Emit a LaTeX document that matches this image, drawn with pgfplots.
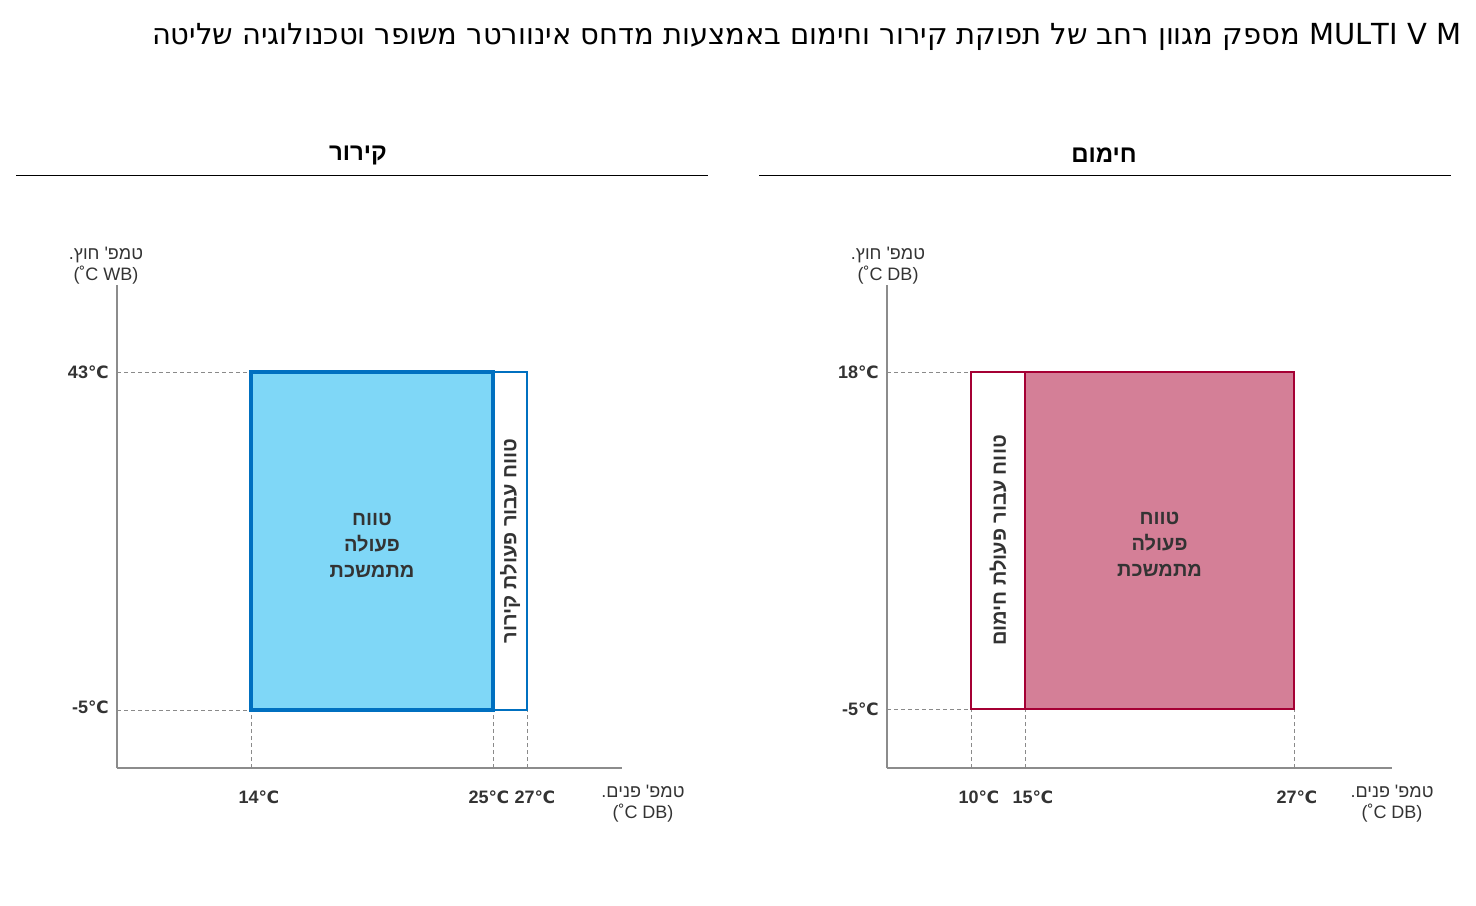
\documentclass[border=0pt]{standalone}
\usepackage{pgfplots}
\pgfplotsset{compat=1.18}
\usepackage{fontspec}
\setmainfont{Liberation Sans}
\newfontfamily\heb[Script=Hebrew]{Liberation Sans}
\newfontfamily\titlefont[Script=Hebrew]{DejaVu Sans}
\newfontfamily\dv{DejaVu Sans}
\TeXXeTstate=1
\definecolor{lblue}{HTML}{7FD7F7}
\definecolor{dblue}{HTML}{0070C0}
\definecolor{pinkf}{HTML}{D47F97}
\definecolor{crim}{HTML}{A50034}
\definecolor{txt}{HTML}{333333}
\definecolor{axgray}{HTML}{8C8C8C}
\definecolor{dgray}{HTML}{8A8A8A}
\newcommand\dc{{\dv\bfseries\fontsize{8.5}{10}\selectfont ℃}}
\pgfplotsset{panel/.style={
  scale only axis, width=252.5pt, height=241.5pt,
  anchor=south west,
  axis lines=left, axis line style={-, draw=axgray, line width=0.6pt},
  enlargelimits=false, clip=false,
  major tick length=0pt, tick style={draw=none},
  ticklabel style={font=\fontsize{9}{10}\selectfont\bfseries, text=txt},
  yticklabel style={anchor=east, inner sep=0pt, xshift=-4pt},
  xticklabel style={anchor=north, inner sep=0pt, yshift=-11pt, xshift=4pt},
  xlabel style={font=\heb\fontsize{9}{10.5}\selectfont, text=txt, align=center, anchor=north},
  ylabel style={rotate=-90, font=\heb\fontsize{9}{10.5}\selectfont, text=txt, align=center, anchor=south},
},
dash/.style={draw=dgray, line width=0.5pt, dash pattern=on 2pt off 1.5pt},
}
\begin{document}
\begin{tikzpicture}
\path[use as bounding box] (0pt,0pt) rectangle (738pt,-452.5pt);
% title
\node[anchor=east, inner sep=0pt] at (731pt,-18.5pt) {\titlefont\fontsize{14.5}{18}\selectfont\beginR\beginL MULTI V M\endL{} מספק מגוון רחב של תפוקת קירור וחימום באמצעות מדחס אינוורטר משופר וטכנולוגיה שליטה\endR};
% headings
\node[inner sep=0pt] at (179pt,-77.5pt) {\heb\bfseries\fontsize{12}{14}\selectfont\beginR קירור\endR};
\node[inner sep=0pt] at (552pt,-77.5pt) {\heb\bfseries\fontsize{12}{14}\selectfont\beginR חימום\endR};
\draw[line width=0.5pt] (8pt,-87.5pt) -- (354pt,-87.5pt);
\draw[line width=0.5pt] (379.5pt,-87.5pt) -- (725.5pt,-87.5pt);

% ---------------- cooling ----------------
\begin{axis}[panel, at={(58.5pt,-384pt)},
  ymin=-13.2367, ymax=55.355,
  x coord trafo/.code={\pgfmathparse{(#1<25.0001) ? (134+(#1-14)*22) : (376+(#1-25)*17)}},
  xtick={14,25,27},
  xticklabels={14\dc, 25\dc\hspace*{12pt}, 27\dc},
  ytick={-5,43},
  yticklabels={\raisebox{2.5pt}{-5\dc}, 43\dc},
  xlabel={\beginR טמפ' פנים.\endR\\(˚C DB)},
  xlabel style={at={(axis description cs:1.0416,0)}, yshift=-5pt},
  ylabel={\beginR טמפ' חוץ.\endR\\(˚C WB)},
  ylabel style={at={(axis description cs:-0.0218,1)}, yshift=-3pt},
]
\addplot[draw=none] coordinates {(7.90909,0) (32.588235,0)};
\addplot[dash] coordinates {(7.90909,43) (14,43)};
\addplot[dash] coordinates {(7.90909,-5) (14,-5)};
\addplot[dash] coordinates {(14,-13.2367) (14,-5)};
\addplot[dash] coordinates {(25,-13.2367) (25,-5)};
\addplot[dash] coordinates {(27,-13.2367) (27,-5)};
\addplot[fill=white, draw=dblue, line width=1pt] coordinates {(25,-5) (27,-5) (27,43) (25,43)} -- cycle;
\addplot[fill=lblue, draw=dblue, line width=1.7pt] coordinates {(14,-5) (25,-5) (25,43) (14,43)} -- cycle;
\node[align=center, text=txt, font=\heb\bfseries\fontsize{10}{13}\selectfont, yshift=-2pt] at (axis cs:19.5,19) {\beginR טווח\endR\\\beginR פעולה\endR\\\beginR מתמשכת\endR};
\node[rotate=90, text=txt, font=\heb\bfseries\fontsize{10}{12}\selectfont] at (axis cs:26,19) {\beginR טווח עבור פעולת קירור\endR};
\end{axis}

% ---------------- heating ----------------
\begin{axis}[panel, at={(443.5pt,-384pt)},
  ymin=-9.0267, ymax=23.9377,
  x coord trafo/.code={\pgfmathparse{(#1<15.0001) ? (84+(#1-10)*10.8) : (138+(#1-15)*269/12)}},
  xtick={10,15,27},
  xticklabels={10\dc, 15\dc, 27\dc\hspace*{5pt}},
  ytick={-5,18},
  yticklabels={-5\dc, 18\dc},
  xlabel={\beginR טמפ' פנים.\endR\\(˚C DB)},
  xlabel style={at={(axis description cs:1.0,0)}, yshift=-5pt},
  ylabel={\beginR טמפ' חוץ.\endR\\(˚C DB)},
  ylabel style={at={(axis description cs:0.002,1)}, yshift=-3pt},
]
\addplot[draw=none] coordinates {(2.22222,0) (31.37175,0)};
\addplot[dash] coordinates {(2.22222,18) (10,18)};
\addplot[dash] coordinates {(2.22222,-5) (10,-5)};
\addplot[dash] coordinates {(10,-9.0267) (10,-5)};
\addplot[dash] coordinates {(15,-9.0267) (15,-5)};
\addplot[dash] coordinates {(27,-9.0267) (27,-5)};
\addplot[fill=white, draw=crim, line width=1pt] coordinates {(10,-5) (15,-5) (15,18) (10,18)} -- cycle;
\addplot[fill=pinkf, draw=crim, line width=0.8pt] coordinates {(15,-5) (27,-5) (27,18) (15,18)} -- cycle;
\node[align=center, text=txt, font=\heb\bfseries\fontsize{10}{13}\selectfont, yshift=-2pt] at (axis cs:21,6.5) {\beginR טווח\endR\\\beginR פעולה\endR\\\beginR מתמשכת\endR};
\node[rotate=90, text=txt, font=\heb\bfseries\fontsize{10}{12}\selectfont] at (axis cs:12.5,6.5) {\beginR טווח עבור פעולת חימום\endR};
\end{axis}
\end{tikzpicture}
\end{document}
